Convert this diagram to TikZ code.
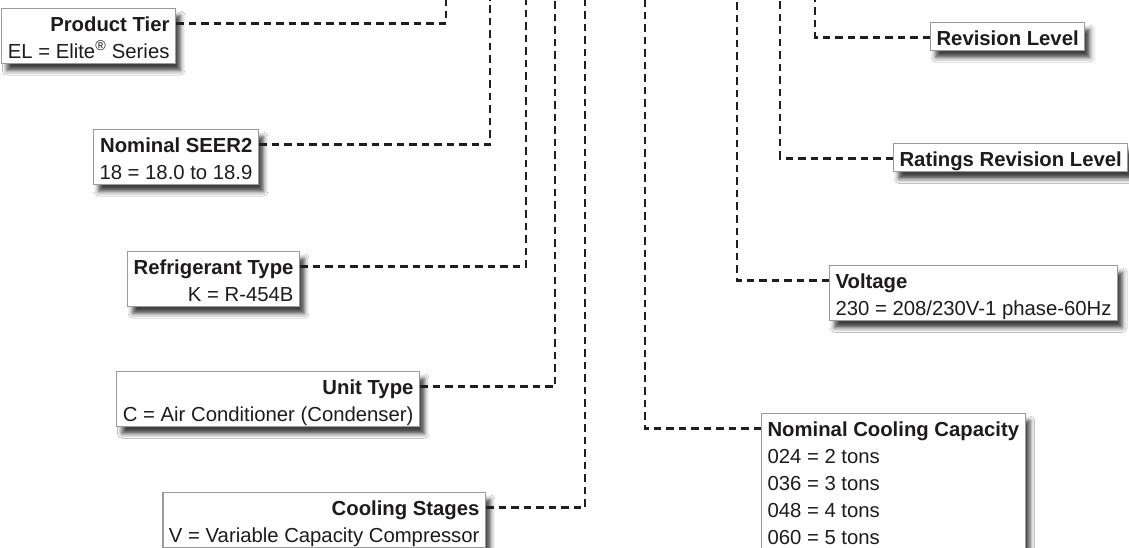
\documentclass[tikz,border=0pt]{standalone}
\usepackage{fontspec}
\setmainfont{Liberation Sans}
\usetikzlibrary{shadows.blur}
\definecolor{txt}{HTML}{1E1B1C}
\definecolor{boxline}{HTML}{9A9A9A}
\newcommand{\fr}[1]{\rule[-6pt]{0pt}{27pt}#1}
\newcommand{\lr}[1]{\rule[-4pt]{0pt}{25pt}#1}
\newcommand{\sr}[1]{\rule[-4pt]{0pt}{25pt}#1}
\renewcommand{\arraystretch}{0}
\tikzset{
  infobox/.style={draw=boxline, line width=1.1pt, fill=white, text=txt,
    inner xsep=6pt, inner ysep=1.5pt,
    font=\fontsize{20.3}{27}\selectfont,
    blur shadow={shadow xshift=5pt, shadow yshift=-7pt, shadow blur radius=4.5pt, shadow opacity=75}},
  conn/.style={line width=2.4pt, draw=black!88, dash pattern=on 7.5pt off 5pt}
}
\begin{document}
\begin{tikzpicture}[x=1pt, y=-1pt]
\useasboundingbox (0,0) rectangle (1129,548);
\fill[white] (0,0) rectangle (1129,548);

% top free ends of the connectors
\coordinate (tPT) at (446,0);
\coordinate (tSE) at (490,0);
\coordinate (tRT) at (526,0);
\coordinate (tUT) at (555,0);
\coordinate (tCS) at (585,0);
\coordinate (tNC) at (645,0);
\coordinate (tVO) at (737,0);
\coordinate (tRR) at (780,0);
\coordinate (tRL) at (815,0);

% left-hand boxes
\node[infobox, anchor=north east] (pt) at (176,8)
  {\begin{tabular}{@{}r@{}}\fr{\textbf{Product Tier}}\\\lr{EL = Elite\textsuperscript{®} Series}\end{tabular}};
\node[infobox, anchor=north east] (se) at (259,129)
  {\begin{tabular}{@{}r@{}}\fr{\textbf{Nominal SEER2}}\\\lr{18 = 18.0 to 18.9}\end{tabular}};
\node[infobox, anchor=north east] (rt) at (300,251)
  {\begin{tabular}{@{}r@{}}\fr{\textbf{Refrigerant Type}}\\\lr{K = R-454B}\end{tabular}};
\node[infobox, anchor=north east] (ut) at (420,371)
  {\begin{tabular}{@{}r@{}}\fr{\textbf{Unit Type}}\\\lr{C = Air Conditioner (Condenser)}\end{tabular}};
\node[infobox, anchor=north east] (cs) at (486,492)
  {\begin{tabular}{@{}r@{}}\fr{\textbf{Cooling Stages}}\\\lr{V = Variable Capacity Compressor}\end{tabular}};

% right-hand boxes
\node[infobox, anchor=north west] (rl) at (930,22)
  {\begin{tabular}{@{}l@{}}\sr{\textbf{Revision Level}}\end{tabular}};
\node[infobox, anchor=north west] (rr) at (893,143)
  {\begin{tabular}{@{}l@{}}\sr{\textbf{Ratings Revision Level}}\end{tabular}};
\node[infobox, anchor=north west] (vo) at (829,265)
  {\begin{tabular}{@{}l@{}}\fr{\textbf{Voltage}}\\\lr{230 = 208/230V-1 phase-60Hz}\end{tabular}};
\node[infobox, anchor=north west] (nc) at (761,413)
  {\begin{tabular}{@{}l@{}}\fr{\textbf{Nominal Cooling Capacity}}\\\fr{024 = 2 tons}\\\fr{036 = 3 tons}\\\fr{048 = 4 tons}\\\lr{060 = 5 tons}\end{tabular}};

% connectors
\draw[conn] ([yshift=-15.5pt]pt.north east) -| (tPT);
\draw[conn] ([yshift=-15.5pt]se.north east) -| (tSE);
\draw[conn] ([yshift=-15.5pt]rt.north east) -| (tRT);
\draw[conn] ([yshift=-15.5pt]ut.north east) -| (tUT);
\draw[conn] ([yshift=-15.5pt]cs.north east) -| (tCS);
\draw[conn] ([yshift=-15.5pt]nc.north west) -| (tNC);
\draw[conn] ([yshift=-15.5pt]vo.north west) -| (tVO);
\draw[conn] ([yshift=-15.5pt]rr.north west) -| (tRR);
\draw[conn] ([yshift=-15.5pt]rl.north west) -| (tRL);
\end{tikzpicture}
\end{document}
